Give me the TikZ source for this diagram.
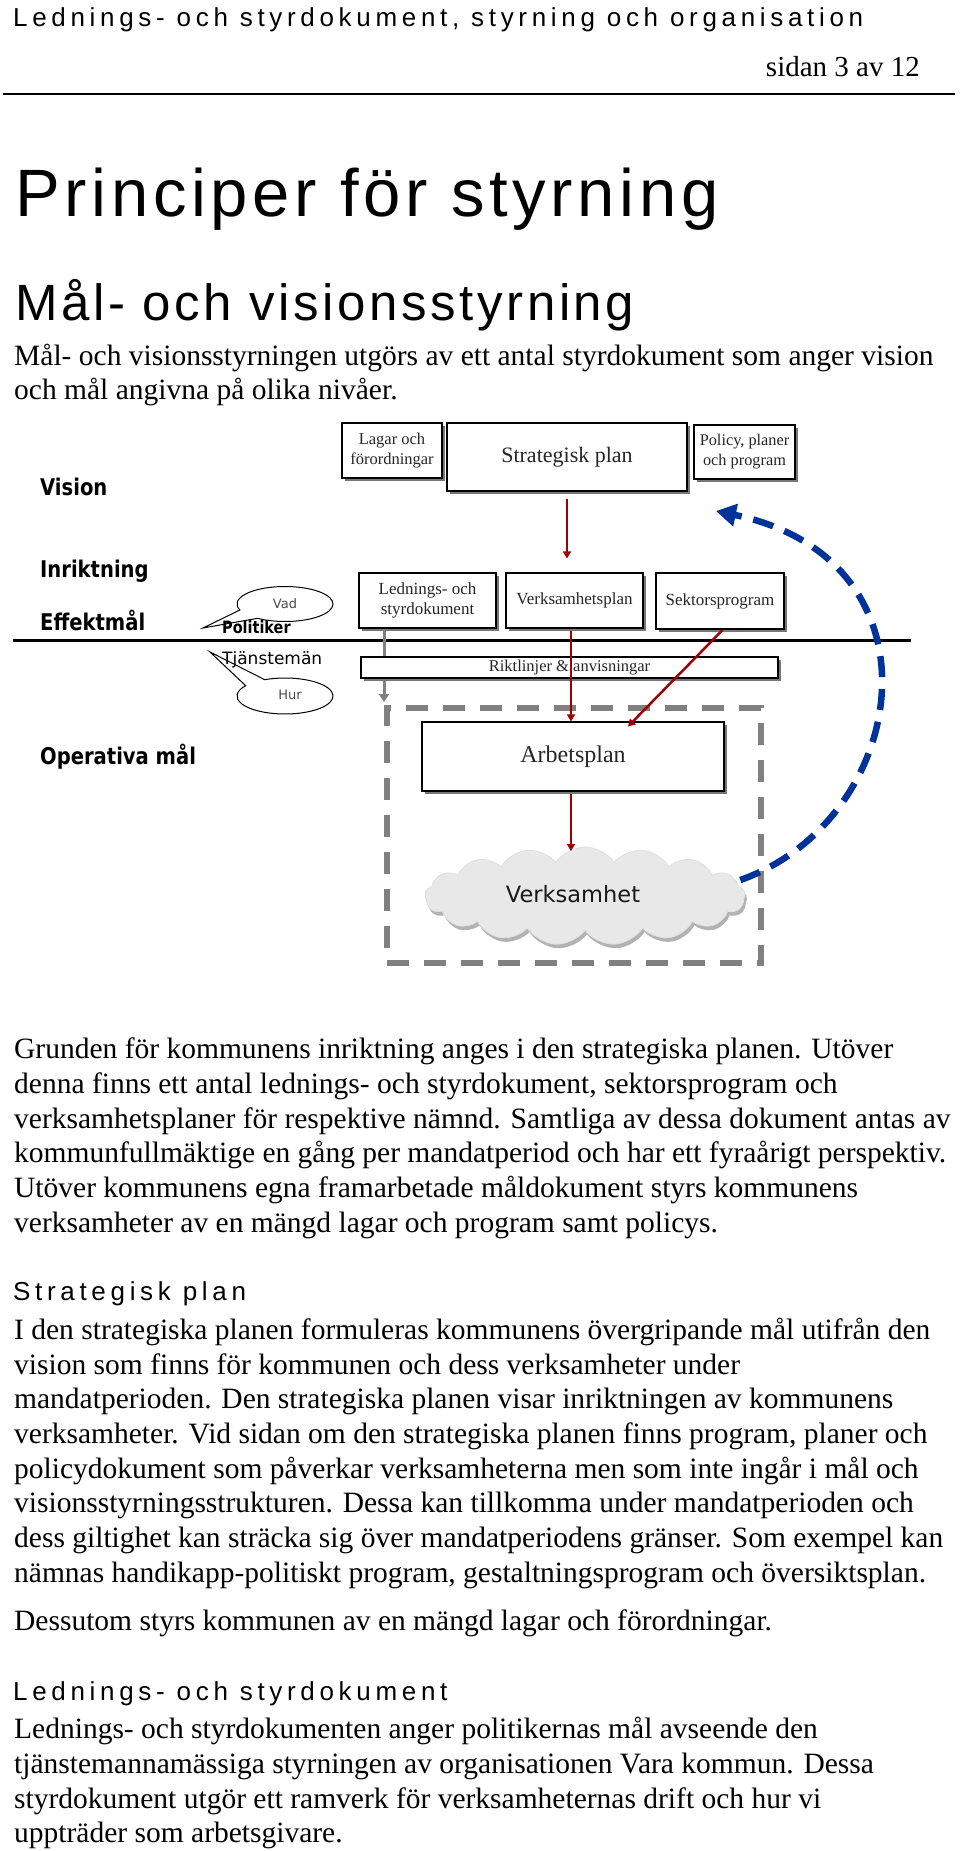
\documentclass[tikz,border=0pt]{standalone}
\usepackage{fontspec}
\setmainfont{Liberation Serif}
\newfontfamily\hdfont[LetterSpace=18]{Liberation Sans}
\newfontfamily\ttlfont[LetterSpace=7]{Liberation Sans}
\newfontfamily\dvs{DejaVu Sans}
\newfontfamily\lblfont[FakeStretch=0.85]{DejaVu Sans}
\usetikzlibrary{shapes.symbols,shadows,arrows.meta,calc}
\definecolor{dred}{RGB}{160,0,0}
\definecolor{myblue}{RGB}{0,51,153}
\definecolor{shgray}{RGB}{120,120,120}
\tikzset{
  docbox/.style={draw=black, line width=1.1pt, fill=white, inner sep=0pt, align=center, text=black!85,
    drop shadow={shadow xshift=3pt, shadow yshift=-3pt, fill=shgray, opacity=1}},
  redarr/.style={draw=dred, line width=2.5pt, -{Triangle[width=8pt,length=7pt]}},
  grayarr/.style={draw=gray, line width=3pt, -{Triangle[width=10pt,length=8pt]}},
  bluearr/.style={draw=myblue, line width=6.5pt, dash pattern=on 21pt off 12pt, -{Triangle[width=22pt,length=20pt]}},
  dashbox/.style={draw=gray, line width=5.5pt, dash pattern=on 22pt off 15pt, inner sep=0pt},
  bodytxt/.style={anchor=base west, inner sep=0pt, font=\fontsize{29.5pt}{34.7pt}\selectfont},
  headtxt/.style={anchor=base west, inner sep=0pt, font=\hdfont\fontsize{26pt}{30pt}\selectfont},
  lbl/.style={anchor=base west, inner sep=0pt, font=\lblfont\bfseries\fontsize{23pt}{26pt}\selectfont},
  bubble/.style={draw=black, line width=1pt, fill=white},
  bubtxt/.style={inner sep=0pt, text=black!70, font=\dvs\fontsize{13pt}{15pt}\selectfont},
}
\begin{document}
\begin{tikzpicture}[x=1pt,y=-1pt]
\useasboundingbox (0,0) rectangle (960,1851);
\fill[white] (0,0) rectangle (960,1851);

% ---------- header ----------
\node[headtxt] (hdr) at (13,27) {Lednings- och styrdokument, styrning och organisation};
\node[anchor=base east, inner sep=0pt, font=\fontsize{29pt}{32pt}\selectfont] (page) at (920,77) {sidan 3 av 12};
\draw[line width=2pt] (3,94) -- (955,94);
\node[anchor=base west, inner sep=0pt, font=\ttlfont\fontsize{67pt}{70pt}\selectfont] (title) at (15,217) {Principer för styrning};
\node[anchor=base west, inner sep=0pt, font=\ttlfont\fontsize{51pt}{54pt}\selectfont] (sub) at (15,320) {Mål- och visionsstyrning};
\node[bodytxt] (p1a) at (14,365) {Mål- och visionsstyrningen utgörs av ett antal styrdokument som anger vision};
\node[bodytxt] (p1b) at (14,399) {och mål angivna på olika nivåer.};

% ---------- diagram ----------
\node[lbl] (vision) at (40,495) {Vision};
\node[lbl] (inrikt) at (40,577) {Inriktning};
\node[lbl] (effekt) at (40,630) {Effektmål};
\node[lbl] (operat) at (40,764) {Operativa mål};

\draw[line width=3pt] (13,640) -- (911,640);

\node[dashbox, minimum width=374pt, minimum height=255pt] (zone) at (574,835.5) {};

\node[docbox, minimum width=100pt, minimum height=55pt, font=\fontsize{16.5pt}{20pt}\selectfont] (lagar) at (392,450.5) {Lagar och\\förordningar};
\node[docbox, minimum width=240pt, minimum height=68pt, font=\fontsize{22pt}{26pt}\selectfont] (strat) at (567,457) {Strategisk plan};
\node[docbox, minimum width=101pt, minimum height=54pt, font=\fontsize{16.3pt}{20pt}\selectfont] (policy) at (744.5,452) {Policy, planer\\och program};
\node[docbox, minimum width=137pt, minimum height=55pt, font=\fontsize{17pt}{20pt}\selectfont] (ledn) at (427.5,600.5) {Lednings- och\\styrdokument};
\node[docbox, minimum width=137pt, minimum height=55pt, font=\fontsize{17pt}{20pt}\selectfont] (vplan) at (574.5,600.5) {Verksamhetsplan};
\node[docbox, minimum width=128pt, minimum height=56pt, font=\fontsize{17pt}{20pt}\selectfont] (sektor) at (720,601) {Sektorsprogram};

\coordinate (gtip) at (384,702);
\draw[grayarr] ([xshift=-43.5pt]ledn.south) -- (gtip);

\node[docbox, minimum width=417pt, minimum height=21pt, font=\fontsize{16.5pt}{20pt}\selectfont] (rikt) at (569.5,667.5) {Riktlinjer \& anvisningar};
\node[docbox, minimum width=302pt, minimum height=69pt, font=\fontsize{24pt}{28pt}\selectfont] (arb) at (573,756.5) {Arbetsplan};

\node[cloud, cloud puffs=17, cloud puff arc=110, cloud ignores aspect, minimum width=320pt, minimum height=98pt,
  fill=gray!18, draw=gray!25, line width=0.8pt, inner sep=0pt,
  drop shadow={shadow xshift=2pt, shadow yshift=-4pt, fill=gray!60, opacity=1}] (cloud) at (585,896) {};
\node[inner sep=0pt, text=black!90, font=\dvs\fontsize{22.5pt}{26pt}\selectfont] (vtext) at (573,894) {Verksamhet};

% red arrows
\draw[redarr, shorten <=7pt, shorten >=14pt] (strat.south) -- (strat.south |- vplan.north);
\draw[redarr, shorten <=2pt] ([xshift=-3.5pt]vplan.south) -- ([xshift=-3.5pt]vplan.south |- arb.north);
\draw[redarr, shorten <=1pt] ([xshift=3pt]sektor.south) -- ([xshift=55pt,yshift=-5pt]arb.north);
\coordinate (ctip) at (571,851);
\draw[redarr, shorten <=2pt] ([xshift=-2pt]arb.south) -- (ctip);

% blue feedback arrow
\coordinate (btip) at (716,511);
\draw[bluearr] ([shift={(-5pt,16pt)}]cloud.east) .. controls (910,820) and (950,560) .. (btip);

% speech bubbles
\draw[bubble] ($(285,604)+(200:48pt and 17.5pt)$) -- (203,628) -- ($(285,604)+(235:48pt and 17.5pt)$)
  arc[start angle=235, end angle=560, x radius=48pt, y radius=17.5pt] -- cycle;
\draw[bubble] ($(285,696)+(145:48pt and 18pt)$) -- (210,652) -- ($(285,696)+(115:48pt and 18pt)$)
  arc[start angle=115, end angle=-215, x radius=48pt, y radius=18pt] -- cycle;
\node[bubtxt] (vad) at (285,604) {Vad};
\node[bubtxt] (hur) at (290,695) {Hur};
\node[anchor=base west, inner sep=0pt, font=\lblfont\bfseries\fontsize{17pt}{20pt}\selectfont] (polit) at (222,633) {Politiker};
\node[anchor=base west, inner sep=0pt, font=\dvs\fontsize{17pt}{20pt}\selectfont] (tjm) at (222,664) {Tjänstemän};

% ---------- body text ----------
\node[bodytxt] (q1) at (14,1058) {Grunden för kommunens inriktning anges i den strategiska planen. Utöver};
\node[bodytxt] (q2) at (14,1093) {denna finns ett antal lednings- och styrdokument, sektorsprogram och};
\node[bodytxt] (q3) at (14,1128) {verksamhetsplaner för respektive nämnd. Samtliga av dessa dokument antas av};
\node[bodytxt] (q4) at (14,1162) {kommunfullmäktige en gång per mandatperiod och har ett fyraårigt perspektiv.};
\node[bodytxt] (q5) at (14,1197) {Utöver kommunens egna framarbetade måldokument styrs kommunens};
\node[bodytxt] (q6) at (14,1232) {verksamheter av en mängd lagar och program samt policys.};

\node[headtxt] (h2) at (13,1300) {Strategisk plan};
\node[bodytxt] (s1) at (14,1339) {I den strategiska planen formuleras kommunens övergripande mål utifrån den};
\node[bodytxt] (s2) at (14,1374) {vision som finns för kommunen och dess verksamheter under};
\node[bodytxt] (s3) at (14,1408) {mandatperioden. Den strategiska planen visar inriktningen av kommunens};
\node[bodytxt] (s4) at (14,1443) {verksamheter. Vid sidan om den strategiska planen finns program, planer och};
\node[bodytxt] (s5) at (14,1478) {policydokument som påverkar verksamheterna men som inte ingår i mål och};
\node[bodytxt] (s6) at (14,1512) {visionsstyrningsstrukturen. Dessa kan tillkomma under mandatperioden och};
\node[bodytxt] (s7) at (14,1547) {dess giltighet kan sträcka sig över mandatperiodens gränser. Som exempel kan};
\node[bodytxt] (s8) at (14,1582) {nämnas handikapp-politiskt program, gestaltningsprogram och översiktsplan.};
\node[bodytxt] (d1) at (14,1630) {Dessutom styrs kommunen av en mängd lagar och förordningar.};

\node[headtxt] (h3) at (13,1700) {Lednings- och styrdokument};
\node[bodytxt] (t1) at (14,1738) {Lednings- och styrdokumenten anger politikernas mål avseende den};
\node[bodytxt] (t2) at (14,1773) {tjänstemannamässiga styrningen av organisationen Vara kommun. Dessa};
\node[bodytxt] (t3) at (14,1808) {styrdokument utgör ett ramverk för verksamheternas drift och hur vi};
\node[bodytxt] (t4) at (14,1842) {uppträder som arbetsgivare.};
\end{tikzpicture}
\end{document}
